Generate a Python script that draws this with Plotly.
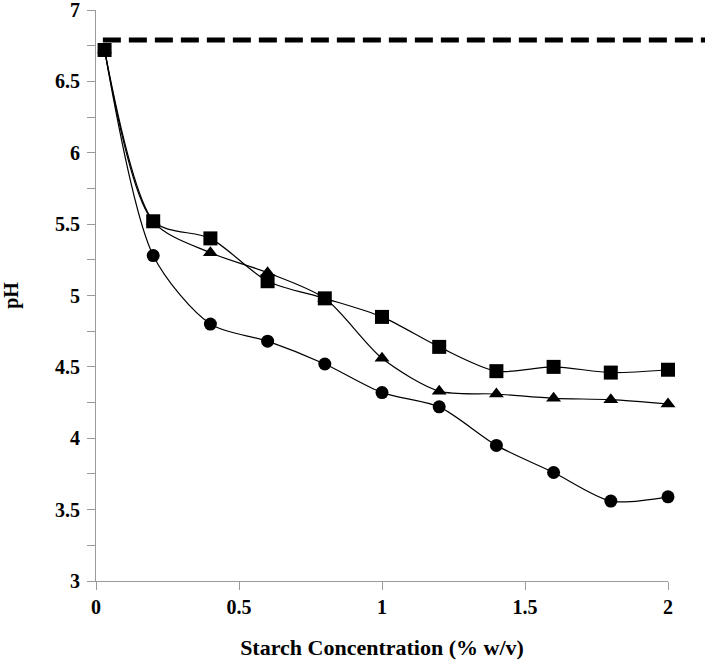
import plotly.graph_objects as go

x_vals = [0.03, 0.2, 0.4, 0.6, 0.8, 1.0, 1.2, 1.4, 1.6, 1.8, 2.0]
ph_square = [6.72, 5.52, 5.40, 5.10, 4.98, 4.85, 4.64, 4.47, 4.50, 4.46, 4.48]
ph_triangle = [6.72, 5.52, 5.30, 5.16, 4.98, 4.56, 4.33, 4.31, 4.28, 4.27, 4.24]
ph_circle = [6.72, 5.28, 4.80, 4.68, 4.52, 4.32, 4.22, 3.95, 3.76, 3.56, 3.59]
control_ph = 6.79

x_ticks = [0, 0.5, 1, 1.5, 2]
x_tick_text = ["0", "0.5", "1", "1.5", "2"]
y_ticks = [3, 3.5, 4, 4.5, 5, 5.5, 6, 6.5, 7]
y_tick_text = ["3", "3.5", "4", "4.5", "5", "5.5", "6", "6.5", "7"]

font_family = "Liberation Serif, Times New Roman, serif"

fig = go.Figure()

series = [
    (ph_circle, "circle", 13),
    (ph_triangle, "triangle-up", 13),
    (ph_square, "square", 14),
]
for ys, sym, sz in series:
    fig.add_trace(go.Scatter(
        x=x_vals, y=ys, mode="lines+markers",
        line=dict(color="black", width=1.2, shape="spline", smoothing=0.8),
        marker=dict(symbol=sym, size=sz, color="black"),
        showlegend=False, cliponaxis=False,
    ))

fig.add_shape(type="line", xref="paper", yref="y",
              x0=0.012, x1=1.07, y0=control_ph, y1=control_ph,
              line=dict(color="black", width=5, dash="18px,8px"))

axis_common = dict(
    showgrid=False, zeroline=False, showline=True, linecolor="#9a9a9a", linewidth=1,
    ticks="outside", ticklen=8, tickcolor="#9a9a9a", tickwidth=1, automargin=False,
    ticklabeloverflow="allow",
    tickfont=dict(family=font_family, size=20, color="black", weight="bold"),
)

fig.update_xaxes(
    range=[0, 2], tickvals=x_ticks, ticktext=x_tick_text,
    title=dict(text="<b>Starch Concentration (% w/v)</b>",
               font=dict(family=font_family, size=22, color="black"), standoff=26),
    **axis_common,
)
fig.update_yaxes(
    range=[3, 7], tickvals=y_ticks, ticktext=y_tick_text, ticklabelstandoff=3,
    minor=dict(ticks="outside", ticklen=8, tickcolor="#9a9a9a", dtick=0.25, tick0=3),
    title=dict(text="<b>pH</b>", font=dict(family=font_family, size=20, color="black"), standoff=36),
    **axis_common,
)

fig.update_layout(
    width=705, height=660,
    margin=dict(l=96, r=37, t=10, b=79),
    plot_bgcolor="white", paper_bgcolor="white",
)

fig.write_html("out.html", config={"displayModeBar": False},
               post_script="document.body.style.margin='0';")
